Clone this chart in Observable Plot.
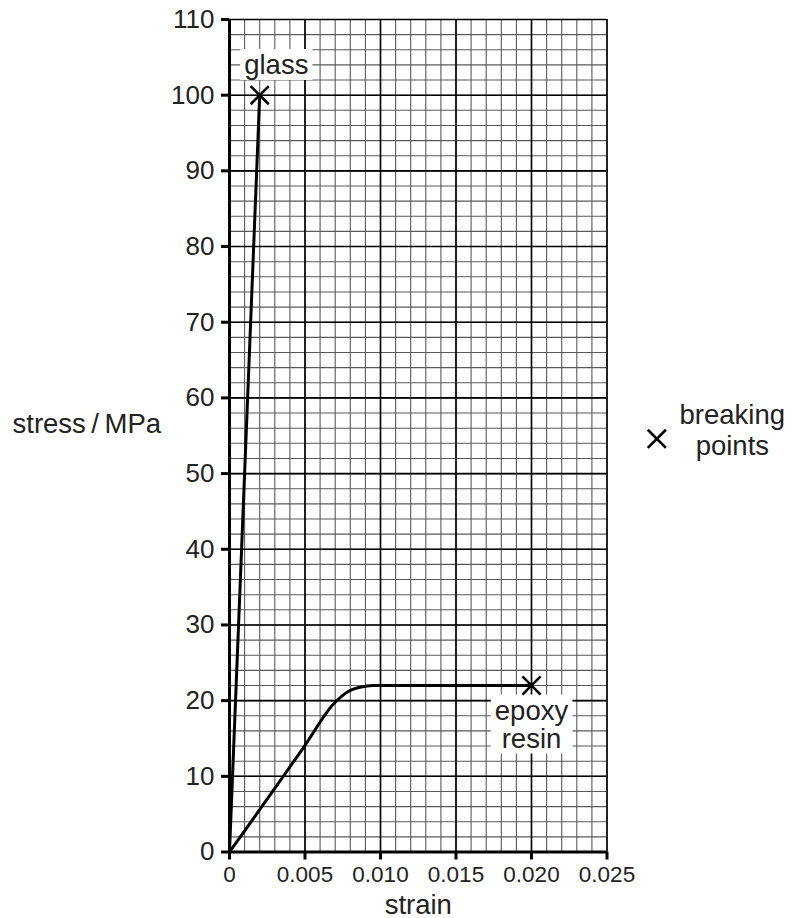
<!DOCTYPE html>
<html>
<head>
<meta charset="utf-8">
<script src="https://cdn.jsdelivr.net/npm/d3@7"></script>
<script src="https://cdn.jsdelivr.net/npm/@observablehq/plot@0.6"></script>
<style>
  html, body { margin: 0; padding: 0; background: #fff; }
  #chart { width: 793px; height: 918px; }
</style>
</head>
<body>
<div id="chart"></div>
<script>
// ---- data ----
const xMajorTicks = [0, 0.005, 0.010, 0.015, 0.020, 0.025];
const xTickLabels = ["0", "0.005", "0.010", "0.015", "0.020", "0.025"];
const yMajorTicks = [0, 10, 20, 30, 40, 50, 60, 70, 80, 90, 100, 110];
const xMinorStep = 0.001;
const yMinorStep = 2;

const glassStrain = [0, 0.002];
const glassStress = [0, 100];

const epoxyStrain = [0, 0.005, 0.0069, 0.0075, 0.008, 0.0085, 0.009, 0.0095, 0.010, 0.020];
const epoxyStress = [0, 14.1, 19.6, 20.7, 21.35, 21.7, 21.9, 22.0, 22.0, 22.0];

const breakStrain = [0.002, 0.020];
const breakStress = [100, 22];

const labelText = ["glass", "epoxy", "resin"];
const labelGroup = ["glass", "epoxy", "epoxy"];
const labelStrain = [0.0031, 0.020, 0.020];
const labelStress = [102.8, 17.5, 13.8];

const legendText = ["breaking", "points"];
const legendStrain = [0.0333, 0.0333];
const legendStress = [56.6, 52.5];
const legendMarkStrain = [0.0283];
const legendMarkStress = [54.6];

// ---- derived tables ----
const xMinor = d3.range(0, 25 + 1).map(i => +(i * xMinorStep).toFixed(4));
const yMinor = d3.range(0, 55 + 1).map(i => i * yMinorStep);
const glass = glassStrain.map((s, i) => ({strain: s, stress: glassStress[i]}));
const epoxy = epoxyStrain.map((s, i) => ({strain: s, stress: epoxyStress[i]}));
const breaks = breakStrain.map((s, i) => ({strain: s, stress: breakStress[i]}));
const labels = labelText.map((t, i) => ({text: t, group: labelGroup[i], strain: labelStrain[i], stress: labelStress[i]}));
const legend = legendText.map((t, i) => ({text: t, strain: legendStrain[i], stress: legendStress[i]}));
const legendMark = legendMarkStrain.map((s, i) => ({strain: s, stress: legendMarkStress[i]}));

const FONT = "'Liberation Sans', Arial, Helvetica, sans-serif";
const INK = "#222";

const chart = Plot.plot({
  width: 793,
  height: 918,
  marginLeft: 229,
  marginRight: 186.5,
  marginTop: 19,
  marginBottom: 66.5,
  style: {fontFamily: FONT, background: "#fff", color: INK, overflow: "visible"},
  x: {domain: [0, 0.025]},
  y: {domain: [0, 110]},
  marks: [
    // minor grid
    Plot.ruleX(xMinor, {stroke: "#5a5a5a", strokeWidth: 1.1}),
    Plot.ruleY(yMinor, {stroke: "#5a5a5a", strokeWidth: 1.1}),
    // major grid
    Plot.ruleX(xMajorTicks, {stroke: "#000", strokeWidth: 1.6}),
    Plot.ruleY(yMajorTicks, {stroke: "#000", strokeWidth: 1.6}),
    // axes
    Plot.axisY(yMajorTicks, {tickSize: 8, tickPadding: 7, fontSize: 26, strokeWidth: 3, stroke: "#000", fill: INK, label: null}),
    Plot.axisX(xMajorTicks, {tickSize: 8, tickPadding: 6, fontSize: 22.5, strokeWidth: 3, stroke: "#000", fill: INK, label: null,
      tickFormat: d => xTickLabels[xMajorTicks.indexOf(d)]}),
    Plot.ruleX([0], {stroke: "#000", strokeWidth: 3}),
    Plot.ruleY([0], {stroke: "#000", strokeWidth: 3}),
    // curves
    Plot.line(glass, {x: "strain", y: "stress", stroke: "#000", strokeWidth: 3}),
    Plot.line(epoxy, {x: "strain", y: "stress", stroke: "#000", strokeWidth: 3, curve: "monotone-x"}),
    // labels (white boxes added after render)
    Plot.text(labels, {x: "strain", y: "stress", text: "text", fontSize: 27.5, fill: INK, lineAnchor: "bottom",
      ariaDescription: "boxed"}),
    // breaking points
    Plot.dot(breaks, {x: "strain", y: "stress", symbol: "times", r: 8.3, stroke: "#000", strokeWidth: 2.6}),
    // legend
    Plot.dot(legendMark, {x: "strain", y: "stress", symbol: "times", r: 8.3, stroke: "#000", strokeWidth: 2.6, clip: false}),
    Plot.text(legend, {x: "strain", y: "stress", text: "text", fontSize: 27.5, fill: INK, lineAnchor: "bottom", clip: false}),
    // axis titles
    Plot.text(["stress\u2009/\u2009MPa"], {frameAnchor: "left", y: [55.4], dx: -217, textAnchor: "start", lineAnchor: "bottom", fontSize: 27.5, fill: INK}),
    Plot.text(["strain"], {frameAnchor: "bottom", dy: 61.5, lineAnchor: "bottom", fontSize: 27.5, fill: INK})
  ]
});

document.getElementById("chart").appendChild(chart);

// white boxes (one per label group) behind the boxed labels
d3.select(chart).selectAll("g[aria-description='boxed']").each(function () {
  const g = this;
  const texts = Array.from(g.querySelectorAll("text"));
  const boxes = new Map();
  texts.forEach((t, i) => {
    const key = labels[i] ? labels[i].group : i;
    const b = t.getBBox();
    let tx = 0, ty = 0;
    const tr = t.getAttribute("transform");
    if (tr) {
      const mt = /translate\(([-\d.e]+)[ ,]+([-\d.e]+)\)/.exec(tr);
      if (mt) { tx = +mt[1]; ty = +mt[2]; }
    }
    const box = {x0: b.x + tx, y0: b.y + ty, x1: b.x + b.width + tx, y1: b.y + b.height + ty};
    const prev = boxes.get(key);
    if (prev) {
      prev.x0 = Math.min(prev.x0, box.x0); prev.y0 = Math.min(prev.y0, box.y0);
      prev.x1 = Math.max(prev.x1, box.x1); prev.y1 = Math.max(prev.y1, box.y1);
    } else boxes.set(key, box);
  });
  const padX = 4;
  for (const box of boxes.values()) {
    d3.select(g).insert("rect", ":first-child")
      .attr("x", box.x0 - padX).attr("y", box.y0)
      .attr("width", box.x1 - box.x0 + 2 * padX).attr("height", box.y1 - box.y0)
      .attr("fill", "#fff");
  }
});
</script>
</body>
</html>
